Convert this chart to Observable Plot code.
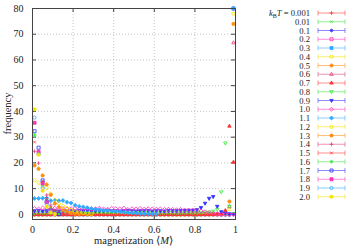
<!DOCTYPE html>
<html><head><meta charset="utf-8">
<script src="https://cdn.jsdelivr.net/npm/d3@7"></script>
<script src="https://cdn.jsdelivr.net/npm/@observablehq/plot@0.6"></script>
<style>body{margin:0;background:#fff}#chart{width:358px;height:251px}</style>
</head><body><div id="chart"></div>
<script>
const _ = null;
// bin centres of magnetization <M>
const M = [0.01,0.03,0.05,0.07,0.09,0.11,0.13,0.15,0.17,0.19,0.21,0.23,0.25,0.27,0.29,0.31,0.33,0.35,0.37,0.39,0.41,0.43,0.45,0.47,0.49,0.51,0.53,0.55,0.57,0.59,0.61,0.63,0.65,0.67,0.69,0.71,0.73,0.75,0.77,0.79,0.81,0.83,0.85,0.87,0.89,0.91,0.93,0.95,0.97,0.99];
const temps = ["0.001","0.01","0.1","0.2","0.3","0.4","0.5","0.6","0.7","0.8","0.9","1.0","1.1","1.2","1.3","1.4","1.5","1.6","1.7","1.8","1.9","2.0"];

const f_0_001 = [0,0,0,0,0,0,0,0,0,0, 0,0,0,0,0,0,0,0,0,0, 0,0,0,0,0,0,0,0,0,0, 0,0,0,0,0,0,0,0,0,0, 0,0,0,0,0,0,0,0,0,80];
const f_0_01  = [0,0,0,0,0,0,0,0,0,0, 0,0,0,0,0,0,0,0,0,0, 0,0,0,0,0,0,0,0,0,0, 0,0,0,0,0,0,0,0,0,0, 0,0,0,0,0,0,0,0,0,80];
const f_0_1   = [0,0,0,0,0,0,0,0,0,0, 0,0,0,0,0,0,0,0,0,0, 0,0,0,0,0,0,0,0,0,0, 0,0,0,0,0,0,0,0,0,0, 0,0,0,0,0,0,0,0,0,80];
const f_0_2   = [0,0,0,0,0,0,0,0,0,0, 0,0,0,0,0,0,0,0,0,0, 0,0,0,0,0,0,0,0,0,0, 0,0,0,0,0,0,0,0,0,0, 0,0,0,0,0,0,0,0,0,80];
const f_0_3   = [0,0,0,0,0,0,0,0,0,0, 0,0,0,0,0,0,0,0,0,0, 0,0,0,0,0,0,0,0,0,0, 0,0,0,0,0,0,0,0,0,0, 0,0,0,0,0,0,0,0,0,80];
const f_0_4   = [0,0,0,0,0,0,0,0,0,0, 0,0,0,0,0,0,0,0,0,0, 0,0,0,0,0,0,0,0,0,0, 0,0,0,0,0,0,0,0,0,0, 0,0,0,0,0,0,0,0,2,78];
const f_0_5   = [0,0,0,0,0,0,0,0,0,0, 0,0,0,0,0,0,0,0,0,0, 0,0,0,0,0,0,0,0,0,0, 0,0,0,0,0,0,0,0,0,0, 0,0,0,0,0,0,0,1,5,74];
const f_0_6   = [0,0,0,0,0,0,0,0,0,0, 0,0,0,0,0,0,0,0,0,0, 0,0,0,0,0,0,0,0,0,0, 0,0,0,0,0,0,0,0,0,0, 0,0,0,0,0,0,0,1,3,66.7];
const f_0_7   = [0,0,0,0,0,0,0,0,0,0, 0,0,0,0,0,0,0,0,0,0, 0,0,0,0,0,0,0,0,0,0, 0,0,0,0,0,0,0,0,0,0, 0,0,0,0,0,0.2,0.5,1.5,34.3,20.3];
const f_0_8   = [0.7,0.8,0.7,0.6,0.7,0.8,0.7,0.7,0.6,0.7, 0.8,0.7,0.7,0.6,0.7,0.7,0.8,0.7,0.6,0.7, 0.7,0.8,0.7,0.7,0.6,0.7,0.7,0.8,0.7,0.7, 0.6,0.7,0.7,0.8,0.7,0.7,0.6,0.7,0.8,0.7, 0.7,0.8,0.8,0.9,1.2,2.0,8.7,27.7,3.1,0.3];
const f_0_9   = [1.4,1.5,1.3,1.4,1.5,1.4,1.3,1.4,1.5,1.4, 1.3,1.4,1.4,1.5,1.3,1.4,1.4,1.3,1.5,1.4, 1.4,1.3,1.4,1.5,1.4,1.3,1.4,1.4,1.5,1.3, 1.4,1.4,1.3,1.5,1.4,1.4,1.5,1.5,1.6,1.6, 1.8,2.6,4.3,6.2,6.9,3.1,1.0,0.4,0.1,0];
const f_1_0   = [2.3,2.1,2.5,2.0,2.2,2.4,1.9,2.3,2.1,2.2, 2.4,2.0,2.2,2.3,1.9,2.2,2.4,2.1,2.0,2.3, 2.2,2.1,2.4,1.9,2.2,2.1,2.3,2.0,2.2,2.1, 2.0,2.1,1.9,2.0,1.9,1.8,1.9,1.7,1.6,1.6, 1.5,1.3,1.0,0.7,0.4,0.2,0,0,0,0];
const f_1_1   = [6.2,6.2,6.3,6.3,5.3,5.5,5.3,5.4,4.7,4.4, 3.5,3.1,2.9,2.6,2.3,2.0,1.8,1.6,1.5,1.3, 1.2,1.0,0.8,0.7,0.5,0.4,0.3,0.2,0.2,0.1, 0.1,_,_,_,_,_,_,_,_,_, _,_,_,_,_,_,_,_,_,_];
const f_1_2   = [13.2,12.3,11.0,10.2,8.0,5.6,4.2,3.2,2.4,1.7, 1.1,0.7,0.4,0.2,0.1,_,_,_,_,_, _,_,_,_,_,_,_,_,_,_, _,_,_,_,_,_,_,_,_,_, _,_,_,_,_,_,_,_,_,_];
const f_1_3   = [19.0,17.7,15.1,11.6,7.6,4.2,2.8,1.6,0.9,0.5, 0.2,0.1,_,_,_,_,_,_,_,_, _,_,_,_,_,_,_,_,_,_, _,_,_,_,_,_,_,_,_,_, _,_,_,_,_,_,_,_,_,_];
const f_1_4   = [24.5,19.9,12.5,7.5,3.6,1.6,0.7,0.3,0.1,_, _,_,_,_,_,_,_,_,_,_, _,_,_,_,_,_,_,_,_,_, _,_,_,_,_,_,_,_,_,_, _,_,_,_,_,_,_,_,_,_];
const f_1_5   = [28.1,23.3,12.8,6.2,2.7,1.1,0.4,0.1,_,_, _,_,_,_,_,_,_,_,_,_, _,_,_,_,_,_,_,_,_,_, _,_,_,_,_,_,_,_,_,_, _,_,_,_,_,_,_,_,_,_];
const f_1_6   = [30.8,23.7,11.6,5.0,2.0,0.7,0.2,_,_,_, _,_,_,_,_,_,_,_,_,_, _,_,_,_,_,_,_,_,_,_, _,_,_,_,_,_,_,_,_,_, _,_,_,_,_,_,_,_,_,_];
const f_1_7   = [32.3,25.9,13.2,4.9,1.5,0.4,0.1,_,_,_, _,_,_,_,_,_,_,_,_,_, _,_,_,_,_,_,_,_,_,_, _,_,_,_,_,_,_,_,_,_, _,_,_,_,_,_,_,_,_,_];
const f_1_8   = [35.6,24.3,12.0,4.7,1.3,0.3,_,_,_,_, _,_,_,_,_,_,_,_,_,_, _,_,_,_,_,_,_,_,_,_, _,_,_,_,_,_,_,_,_,_, _,_,_,_,_,_,_,_,_,_];
const f_1_9   = [37.6,23.5,10.3,3.8,1.0,0.2,_,_,_,_, _,_,_,_,_,_,_,_,_,_, _,_,_,_,_,_,_,_,_,_, _,_,_,_,_,_,_,_,_,_, _,_,_,_,_,_,_,_,_,_];
const f_2_0   = [40.8,23.2,9.2,3.0,0.7,0.1,_,_,_,_, _,_,_,_,_,_,_,_,_,_, _,_,_,_,_,_,_,_,_,_, _,_,_,_,_,_,_,_,_,_, _,_,_,_,_,_,_,_,_,_];

const seriesValues = [f_0_001,f_0_01,f_0_1,f_0_2,f_0_3,f_0_4,f_0_5,f_0_6,f_0_7,f_0_8,f_0_9,f_1_0,f_1_1,f_1_2,f_1_3,f_1_4,f_1_5,f_1_6,f_1_7,f_1_8,f_1_9,f_2_0];
const xTicks = [0,0.2,0.4,0.6,0.8,1];
const yTicks = [0,10,20,30,40,50,60,70,80];

// styles
const palette = ["#ff3030","#38e838","#3030ff","#ff30b8","#30a8ff","#f2e400","#ff8c10","#dc3a78"];
const kinds = ["plus","times","asterisk","square","square","circle","circle","triangle","triangle","invtri","invtri","diamond","diamond","pentagon","pentagon","plus","times","asterisk","square","square","circle","circle"];
const filled = [0,0,0,0,1,0,1,0,1,0,1,0,1,0,1,0,0,0,0,1,0,1];

function makeSym(kind) {
  return {draw(c, size) {
    const s = Math.sqrt(size / Math.PI);
    if (kind === "plus" || kind === "asterisk") { c.moveTo(-s,0); c.lineTo(s,0); c.moveTo(0,-s); c.lineTo(0,s); }
    if (kind === "times" || kind === "asterisk") { const t = s*0.72; c.moveTo(-t,-t); c.lineTo(t,t); c.moveTo(-t,t); c.lineTo(t,-t); }
    if (kind === "square") { const t = s*0.8; c.moveTo(-t,-t); c.lineTo(t,-t); c.lineTo(t,t); c.lineTo(-t,t); c.closePath(); }
    if (kind === "circle") { const t = s*0.85; c.moveTo(t,0); c.arc(0,0,t,0,2*Math.PI); c.closePath(); }
    if (kind === "triangle") { const t = s*1.05; c.moveTo(0,-t); c.lineTo(t*0.87,t*0.55); c.lineTo(-t*0.87,t*0.55); c.closePath(); }
    if (kind === "invtri") { const t = s*1.05; c.moveTo(0,t); c.lineTo(t*0.87,-t*0.55); c.lineTo(-t*0.87,-t*0.55); c.closePath(); }
    if (kind === "diamond") { const t = s*1.05; c.moveTo(0,-t); c.lineTo(t,0); c.lineTo(0,t); c.lineTo(-t,0); c.closePath(); }
    if (kind === "pentagon") { const t = s*0.95; for (let k=0;k<5;k++){const a=-Math.PI/2+k*2*Math.PI/5; const px=t*Math.cos(a), py=t*Math.sin(a); k?c.lineTo(px,py):c.moveTo(px,py);} c.closePath(); }
  }};
}
const syms = kinds.map(makeSym);
const colorOf = i => palette[i % 8];

const W = 358, H = 251, mL = 32, mR = 123, mT = 8, mB = 32;
const fw = W - mL - mR, fh = H - mT - mB;
const R = 1.9;

const dotMarks = seriesValues.map((vals, i) => {
  const data = M.map((m, k) => ({m, v: vals[k]})).filter(d => d.v != null);
  const col = colorOf(i);
  return Plot.dot(data, {x: "m", y: "v", symbol: syms[i], r: R,
    stroke: col, fill: filled[i] ? col : "none", strokeWidth: 0.8});
});

const plot = Plot.plot({
  width: W, height: H, marginLeft: mL, marginRight: mR, marginTop: mT, marginBottom: mB,
  style: {fontFamily: "'Liberation Serif', serif", fontSize: "10px", color: "#222", background: "#fff"},
  x: {domain: [0, 1]},
  y: {domain: [-2, 80]},
  marks: [
    Plot.gridX(xTicks.slice(1, -1), {stroke: "#aaa", strokeOpacity: 1, strokeDasharray: "1,2", strokeWidth: 0.7}),
    Plot.gridY(yTicks.slice(1, -1), {stroke: "#aaa", strokeOpacity: 1, strokeDasharray: "1,2", strokeWidth: 0.7}),
    Plot.ruleX(xTicks, {insetTop: fh - 4, stroke: "#444"}),
    Plot.ruleX(xTicks, {insetBottom: fh - 4, stroke: "#444"}),
    Plot.ruleY(yTicks, {insetRight: fw - 4, stroke: "#444"}),
    Plot.ruleY(yTicks, {insetLeft: fw - 4, stroke: "#444"}),
    Plot.axisX({ticks: xTicks, tickSize: 0, tickPadding: 6, label: null, fontSize: 10,
      tickFormat: d => d === 0 ? "0" : d === 1 ? "1" : d.toFixed(1)}),
    Plot.axisY({ticks: yTicks, tickSize: 0, tickPadding: 9, label: null, fontSize: 10, tickFormat: d => String(d)}),
    ...dotMarks,
    Plot.frame({stroke: "#444", strokeWidth: 1})
  ]
});

const svg = d3.select(plot);
const ff = "'Liberation Serif', serif";
// axis labels
const xl = svg.append("text").attr("x", mL + fw/2).attr("y", 244).attr("text-anchor", "middle")
  .attr("font-family", ff).attr("font-size", 10.5).attr("fill", "#222");
xl.append("tspan").text("magnetization \u27e8");
xl.append("tspan").attr("font-style", "italic").text("M");
xl.append("tspan").text("\u27e9");
svg.append("text").attr("transform", `translate(11,${mT + fh/2}) rotate(-90)`).attr("text-anchor", "middle")
  .attr("font-family", ff).attr("font-size", 10.5).attr("fill", "#222").text("frequency");

// legend
const lg = svg.append("g").attr("font-family", ff).attr("font-size", 8.6).attr("fill", "#222");
temps.forEach((t, i) => {
  const yy = 13 + 8.75 * i;
  const tx = lg.append("text").attr("x", 310).attr("y", yy + 3).attr("text-anchor", "end");
  if (i === 0) {
    tx.append("tspan").attr("font-style", "italic").text("k");
    tx.append("tspan").attr("font-size", 6).attr("dy", 1.5).text("B");
    tx.append("tspan").attr("font-style", "italic").attr("dy", -1.5).text("T");
    tx.append("tspan").text(" = " + t);
  } else tx.text(t);
  const col = colorOf(i);
  const g = lg.append("g").attr("stroke", col).attr("stroke-opacity", 0.55).attr("fill", "none");
  g.append("line").attr("x1", 318).attr("x2", 345).attr("y1", yy).attr("y2", yy);
  g.append("line").attr("x1", 318).attr("x2", 318).attr("y1", yy - 2.5).attr("y2", yy + 2.5);
  g.append("line").attr("x1", 345).attr("x2", 345).attr("y1", yy - 2.5).attr("y2", yy + 2.5);
  lg.append("path").attr("d", d3.symbol(syms[i], R * R * Math.PI)())
    .attr("transform", `translate(331.5,${yy})`)
    .attr("stroke", col).attr("stroke-width", 0.8).attr("fill", filled[i] ? col : "none");
});

document.getElementById("chart").appendChild(plot);
</script></body></html>
